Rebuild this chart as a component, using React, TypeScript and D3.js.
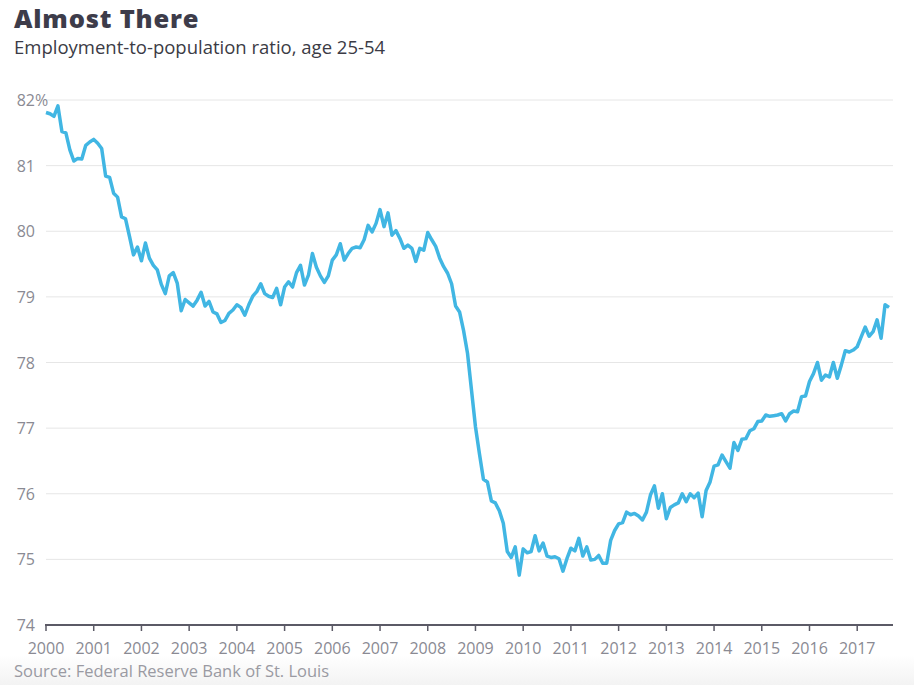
import React from "react";
import * as d3 from "d3";

const startYear = 2000;
const y2000 = [81.81, 81.79, 81.75, 81.91, 81.52, 81.5, 81.24, 81.07, 81.11, 81.1, 81.31, 81.36];
const y2001 = [81.4, 81.34, 81.26, 80.84, 80.82, 80.58, 80.52, 80.22, 80.19, 79.92, 79.64, 79.76];
const y2002 = [79.55, 79.82, 79.59, 79.48, 79.41, 79.19, 79.05, 79.32, 79.37, 79.21, 78.79, 78.96];
const y2003 = [78.91, 78.86, 78.95, 79.07, 78.86, 78.93, 78.77, 78.74, 78.61, 78.64, 78.75, 78.8];
const y2004 = [78.88, 78.84, 78.72, 78.88, 79.01, 79.08, 79.2, 79.05, 79.01, 78.99, 79.13, 78.88];
const y2005 = [79.15, 79.23, 79.15, 79.37, 79.48, 79.18, 79.33, 79.66, 79.45, 79.32, 79.22, 79.32];
const y2006 = [79.56, 79.64, 79.81, 79.56, 79.66, 79.74, 79.76, 79.75, 79.87, 80.09, 79.99, 80.12];
const y2007 = [80.33, 80.07, 80.28, 79.94, 80.01, 79.89, 79.74, 79.79, 79.74, 79.54, 79.74, 79.71];
const y2008 = [79.98, 79.87, 79.77, 79.59, 79.46, 79.36, 79.2, 78.86, 78.77, 78.49, 78.14, 77.58];
const y2009 = [77.02, 76.61, 76.22, 76.18, 75.89, 75.86, 75.74, 75.55, 75.12, 75.03, 75.19, 74.76];
const y2010 = [75.16, 75.1, 75.12, 75.36, 75.13, 75.25, 75.05, 75.03, 75.04, 75.01, 74.82, 75.01];
const y2011 = [75.17, 75.13, 75.32, 75.05, 75.19, 74.99, 75.0, 75.06, 74.94, 74.94, 75.29, 75.44];
const y2012 = [75.54, 75.56, 75.72, 75.68, 75.7, 75.66, 75.6, 75.72, 75.98, 76.12, 75.78, 76.0];
const y2013 = [75.62, 75.79, 75.83, 75.86, 76.0, 75.88, 76.0, 75.94, 76.01, 75.65, 76.05, 76.18];
const y2014 = [76.42, 76.44, 76.59, 76.49, 76.39, 76.78, 76.66, 76.83, 76.84, 76.96, 76.99, 77.1];
const y2015 = [77.11, 77.2, 77.18, 77.19, 77.2, 77.22, 77.11, 77.22, 77.26, 77.25, 77.48, 77.49];
const y2016 = [77.71, 77.83, 78.0, 77.73, 77.81, 77.78, 78.0, 77.76, 77.96, 78.18, 78.16, 78.19];
const y2017 = [78.24, 78.39, 78.54, 78.4, 78.47, 78.65, 78.37, 78.88, 78.84];

const ratioValues = [
  ...y2000, ...y2001, ...y2002, ...y2003, ...y2004, ...y2005, ...y2006, ...y2007, ...y2008,
  ...y2009, ...y2010, ...y2011, ...y2012, ...y2013, ...y2014, ...y2015, ...y2016, ...y2017,
];

const yTicks = [74, 75, 76, 77, 78, 79, 80, 81, 82];
const xTicks = d3.range(2000, 2018);

const W = 914;
const H = 685;

export default function App() {
  const x = d3.scaleLinear().domain([2000, 2017.75]).range([46, 893]);
  const y = d3.scaleLinear().domain([74, 82]).range([625, 100]);
  const data = ratioValues.map((v, i) => ({ t: startYear + i / 12, v }));
  const line = d3
    .line<{ t: number; v: number }>()
    .x((d) => x(d.t))
    .y((d) => y(d.v));

  const font = "'Open Sans', Lato, sans-serif";
  return (
    <svg
      width={W}
      height={H}
      style={{ position: "absolute", left: 0, top: 0, background: "#fff" }}
      fontFamily={font}
    >
      <defs>
        <linearGradient id="bottomFade" x1="0" y1="0" x2="0" y2="1">
          <stop offset="0" stopColor="#ffffff" />
          <stop offset="1" stopColor="#f3f3f3" />
        </linearGradient>
      </defs>
      <rect x={0} y={655} width={W} height={30} fill="url(#bottomFade)" />
      <text x={14} y={28} fontSize={25.5} fontWeight={800} fill="#3d3c4a" letterSpacing={0.8}>
        Almost There
      </text>
      <text x={14} y={54} fontSize={18.5} fill="#3b3b45">
        Employment-to-population ratio, age 25-54
      </text>
      {yTicks
        .filter((t) => t !== 74)
        .map((t) => (
          <line key={t} x1={46} x2={893} y1={y(t)} y2={y(t)} stroke="#e6e6e6" strokeWidth={1} />
        ))}
      {yTicks.map((t) => (
        <g key={t} fontSize={16} fill="#8a8a93">
          <text x={35} y={y(t) + 6} textAnchor="end">
            {t}
          </text>
          {t === 82 && (
            <text x={35} y={y(t) + 6}>
              %
            </text>
          )}
        </g>
      ))}
      <path d={line(data) || ""} fill="none" stroke="#41b6e3" strokeWidth={3.5} strokeLinejoin="round" />
      <line x1={45} x2={893} y1={y(74)} y2={y(74)} stroke="#5b5a66" strokeWidth={2} />
      {xTicks.map((t) => (
        <g key={t}>
          <line x1={x(t)} x2={x(t)} y1={y(74)} y2={y(74) + 6} stroke="#5b5a66" strokeWidth={1.5} />
          <text x={x(t)} y={654} fontSize={16} textAnchor="middle" fill="#8a8a93">
            {t}
          </text>
        </g>
      ))}
      <text x={14} y={677} fontSize={16.5} fill="#9a9aa2">
        Source: Federal Reserve Bank of St. Louis
      </text>
    </svg>
  );
}
